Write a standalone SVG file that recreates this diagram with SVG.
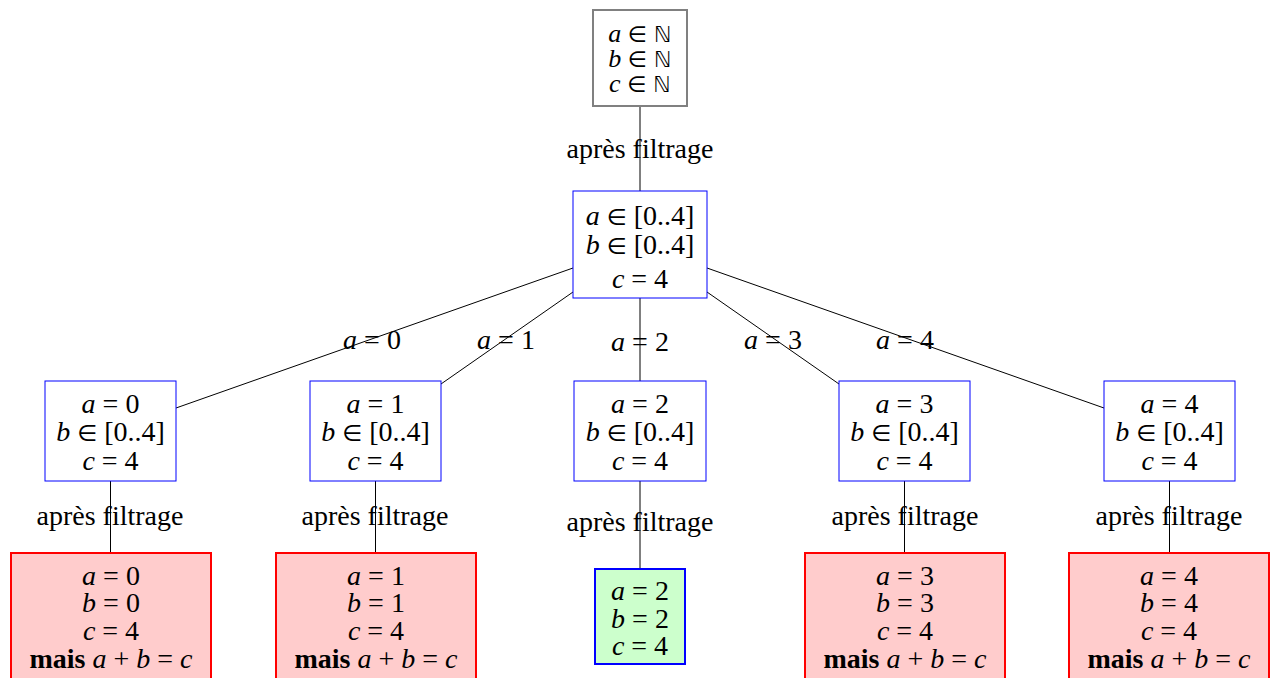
<svg xmlns="http://www.w3.org/2000/svg" width="1276" height="678" viewBox="0 0 1276 678">
<style>
.top{fill:#fff;stroke:#808080;stroke-width:2}
.mid{fill:#fff;stroke:#0000ff;stroke-width:1}
.bad{fill:#ffcccc;stroke:#ff0000;stroke-width:2}
.ok{fill:#ccffcc;stroke:#0000ff;stroke-width:2}
.e{stroke:#000;stroke-width:1;fill:none}
</style>
<g id="connectors">
<line class="e" x1="640" y1="106" x2="640" y2="191"/>
<line class="e" x1="573" y1="268" x2="176" y2="408"/>
<line class="e" x1="573" y1="292" x2="441" y2="384"/>
<line class="e" x1="640" y1="298" x2="640" y2="381"/>
<line class="e" x1="707" y1="292" x2="839" y2="384"/>
<line class="e" x1="707" y1="268" x2="1104" y2="408"/>
<line class="e" x1="110.5" y1="481" x2="110.5" y2="553"/>
<line class="e" x1="375.5" y1="481" x2="375.5" y2="553"/>
<line class="e" x1="640" y1="481" x2="640" y2="569"/>
<line class="e" x1="904.5" y1="481" x2="904.5" y2="553"/>
<line class="e" x1="1169.5" y1="481" x2="1169.5" y2="553"/>
</g>
<g id="labels">
<text font-family="Liberation Serif" font-size="28" text-anchor="middle" x="640" y="158">après filtrage</text>
<text font-family="Liberation Serif" font-size="28" text-anchor="middle" x="372" y="349"><tspan font-style="italic">a</tspan> = 0</text>
<text font-family="Liberation Serif" font-size="28" text-anchor="middle" x="506" y="349"><tspan font-style="italic">a</tspan> = 1</text>
<text font-family="Liberation Serif" font-size="28" text-anchor="middle" x="640" y="351"><tspan font-style="italic">a</tspan> = 2</text>
<text font-family="Liberation Serif" font-size="28" text-anchor="middle" x="773" y="349"><tspan font-style="italic">a</tspan> = 3</text>
<text font-family="Liberation Serif" font-size="28" text-anchor="middle" x="905" y="349"><tspan font-style="italic">a</tspan> = 4</text>
<text font-family="Liberation Serif" font-size="28" text-anchor="middle" x="110" y="525">après filtrage</text>
<text font-family="Liberation Serif" font-size="28" text-anchor="middle" x="375" y="525">après filtrage</text>
<text font-family="Liberation Serif" font-size="28" text-anchor="middle" x="640" y="531">après filtrage</text>
<text font-family="Liberation Serif" font-size="28" text-anchor="middle" x="905" y="525">après filtrage</text>
<text font-family="Liberation Serif" font-size="28" text-anchor="middle" x="1169" y="525">après filtrage</text>
</g>
<g id="root">
<rect class="top" x="593" y="10" width="94" height="96"/>
<text font-family="Liberation Serif" font-size="26" text-anchor="middle" x="640" y="42"><tspan font-style="italic">a</tspan> <tspan font-family="DejaVu Sans" font-size="22">∈ ℕ</tspan></text>
<text font-family="Liberation Serif" font-size="26" text-anchor="middle" x="640" y="67"><tspan font-style="italic">b</tspan> <tspan font-family="DejaVu Sans" font-size="22">∈ ℕ</tspan></text>
<text font-family="Liberation Serif" font-size="26" text-anchor="middle" x="640" y="92"><tspan font-style="italic">c</tspan> <tspan font-family="DejaVu Sans" font-size="22">∈ ℕ</tspan></text>
</g>
<g id="filtered">
<rect class="mid" x="573" y="191" width="134" height="107"/>
<text font-family="Liberation Serif" font-size="28" text-anchor="middle" x="640" y="225"><tspan font-style="italic">a</tspan> <tspan font-family="DejaVu Sans" font-size="23">∈</tspan> [0..4]</text>
<text font-family="Liberation Serif" font-size="28" text-anchor="middle" x="640" y="254"><tspan font-style="italic">b</tspan> <tspan font-family="DejaVu Sans" font-size="23">∈</tspan> [0..4]</text>
<text font-family="Liberation Serif" font-size="28" text-anchor="middle" x="640" y="288"><tspan font-style="italic">c</tspan> = 4</text>
</g>
<g id="a0">
<rect class="mid" x="45" y="381" width="131" height="100"/>
<text font-family="Liberation Serif" font-size="28" text-anchor="middle" x="110.5" y="413"><tspan font-style="italic">a</tspan> = 0</text>
<text font-family="Liberation Serif" font-size="28" text-anchor="middle" x="110.5" y="441"><tspan font-style="italic">b</tspan> <tspan font-family="DejaVu Sans" font-size="23">∈</tspan> [0..4]</text>
<text font-family="Liberation Serif" font-size="28" text-anchor="middle" x="110.5" y="470"><tspan font-style="italic">c</tspan> = 4</text>
</g>
<g id="a1">
<rect class="mid" x="310" y="381" width="131" height="100"/>
<text font-family="Liberation Serif" font-size="28" text-anchor="middle" x="375.5" y="413"><tspan font-style="italic">a</tspan> = 1</text>
<text font-family="Liberation Serif" font-size="28" text-anchor="middle" x="375.5" y="441"><tspan font-style="italic">b</tspan> <tspan font-family="DejaVu Sans" font-size="23">∈</tspan> [0..4]</text>
<text font-family="Liberation Serif" font-size="28" text-anchor="middle" x="375.5" y="470"><tspan font-style="italic">c</tspan> = 4</text>
</g>
<g id="a2">
<rect class="mid" x="574" y="381" width="132" height="100"/>
<text font-family="Liberation Serif" font-size="28" text-anchor="middle" x="640" y="413"><tspan font-style="italic">a</tspan> = 2</text>
<text font-family="Liberation Serif" font-size="28" text-anchor="middle" x="640" y="441"><tspan font-style="italic">b</tspan> <tspan font-family="DejaVu Sans" font-size="23">∈</tspan> [0..4]</text>
<text font-family="Liberation Serif" font-size="28" text-anchor="middle" x="640" y="470"><tspan font-style="italic">c</tspan> = 4</text>
</g>
<g id="a3">
<rect class="mid" x="839" y="381" width="131" height="100"/>
<text font-family="Liberation Serif" font-size="28" text-anchor="middle" x="904.5" y="413"><tspan font-style="italic">a</tspan> = 3</text>
<text font-family="Liberation Serif" font-size="28" text-anchor="middle" x="904.5" y="441"><tspan font-style="italic">b</tspan> <tspan font-family="DejaVu Sans" font-size="23">∈</tspan> [0..4]</text>
<text font-family="Liberation Serif" font-size="28" text-anchor="middle" x="904.5" y="470"><tspan font-style="italic">c</tspan> = 4</text>
</g>
<g id="a4">
<rect class="mid" x="1104" y="381" width="131" height="100"/>
<text font-family="Liberation Serif" font-size="28" text-anchor="middle" x="1169.5" y="413"><tspan font-style="italic">a</tspan> = 4</text>
<text font-family="Liberation Serif" font-size="28" text-anchor="middle" x="1169.5" y="441"><tspan font-style="italic">b</tspan> <tspan font-family="DejaVu Sans" font-size="23">∈</tspan> [0..4]</text>
<text font-family="Liberation Serif" font-size="28" text-anchor="middle" x="1169.5" y="470"><tspan font-style="italic">c</tspan> = 4</text>
</g>
<g id="r0">
<rect class="bad" x="11" y="553" width="200" height="130"/>
<text font-family="Liberation Serif" font-size="28" text-anchor="middle" x="111" y="585"><tspan font-style="italic">a</tspan> = 0</text>
<text font-family="Liberation Serif" font-size="28" text-anchor="middle" x="111" y="612"><tspan font-style="italic">b</tspan> = 0</text>
<text font-family="Liberation Serif" font-size="28" text-anchor="middle" x="111" y="640"><tspan font-style="italic">c</tspan> = 4</text>
<text font-family="Liberation Serif" font-size="28" text-anchor="middle" x="111" y="668"><tspan font-weight="bold">mais</tspan> <tspan font-style="italic">a</tspan> + <tspan font-style="italic">b</tspan> = <tspan font-style="italic">c</tspan></text>
</g>
<g id="r1">
<rect class="bad" x="276" y="553" width="200" height="130"/>
<text font-family="Liberation Serif" font-size="28" text-anchor="middle" x="376" y="585"><tspan font-style="italic">a</tspan> = 1</text>
<text font-family="Liberation Serif" font-size="28" text-anchor="middle" x="376" y="612"><tspan font-style="italic">b</tspan> = 1</text>
<text font-family="Liberation Serif" font-size="28" text-anchor="middle" x="376" y="640"><tspan font-style="italic">c</tspan> = 4</text>
<text font-family="Liberation Serif" font-size="28" text-anchor="middle" x="376" y="668"><tspan font-weight="bold">mais</tspan> <tspan font-style="italic">a</tspan> + <tspan font-style="italic">b</tspan> = <tspan font-style="italic">c</tspan></text>
</g>
<g id="r2">
<rect class="ok" x="595" y="569" width="90" height="95"/>
<text font-family="Liberation Serif" font-size="28" text-anchor="middle" x="640" y="600"><tspan font-style="italic">a</tspan> = 2</text>
<text font-family="Liberation Serif" font-size="28" text-anchor="middle" x="640" y="628"><tspan font-style="italic">b</tspan> = 2</text>
<text font-family="Liberation Serif" font-size="28" text-anchor="middle" x="640" y="655"><tspan font-style="italic">c</tspan> = 4</text>
</g>
<g id="r3">
<rect class="bad" x="805" y="553" width="200" height="130"/>
<text font-family="Liberation Serif" font-size="28" text-anchor="middle" x="905" y="585"><tspan font-style="italic">a</tspan> = 3</text>
<text font-family="Liberation Serif" font-size="28" text-anchor="middle" x="905" y="612"><tspan font-style="italic">b</tspan> = 3</text>
<text font-family="Liberation Serif" font-size="28" text-anchor="middle" x="905" y="640"><tspan font-style="italic">c</tspan> = 4</text>
<text font-family="Liberation Serif" font-size="28" text-anchor="middle" x="905" y="668"><tspan font-weight="bold">mais</tspan> <tspan font-style="italic">a</tspan> + <tspan font-style="italic">b</tspan> = <tspan font-style="italic">c</tspan></text>
</g>
<g id="r4">
<rect class="bad" x="1069" y="553" width="200" height="130"/>
<text font-family="Liberation Serif" font-size="28" text-anchor="middle" x="1169" y="585"><tspan font-style="italic">a</tspan> = 4</text>
<text font-family="Liberation Serif" font-size="28" text-anchor="middle" x="1169" y="612"><tspan font-style="italic">b</tspan> = 4</text>
<text font-family="Liberation Serif" font-size="28" text-anchor="middle" x="1169" y="640"><tspan font-style="italic">c</tspan> = 4</text>
<text font-family="Liberation Serif" font-size="28" text-anchor="middle" x="1169" y="668"><tspan font-weight="bold">mais</tspan> <tspan font-style="italic">a</tspan> + <tspan font-style="italic">b</tspan> = <tspan font-style="italic">c</tspan></text>
</g>
</svg>
